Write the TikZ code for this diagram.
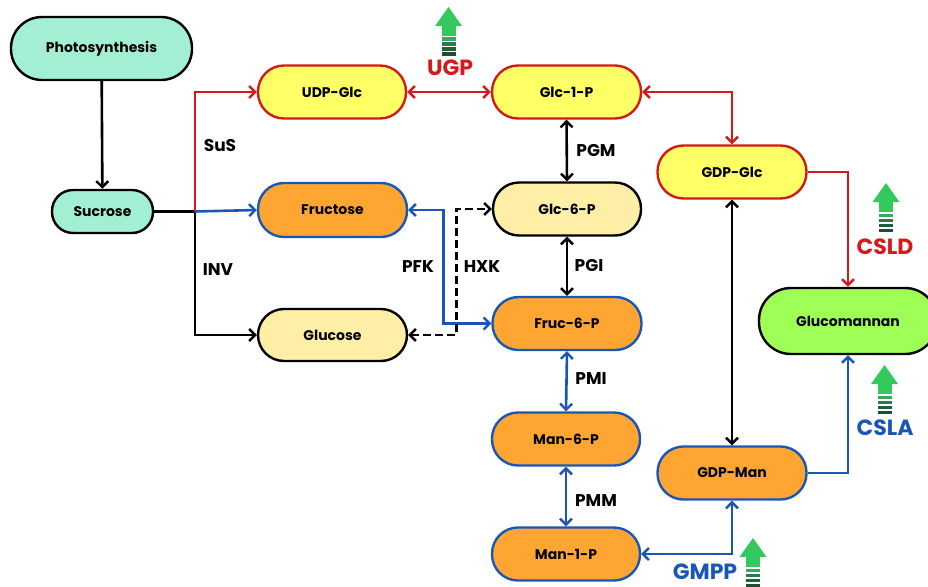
\documentclass[tikz,border=0pt]{standalone}
\usepackage{fontspec}
\setmainfont{Poppins}
\usetikzlibrary{arrows.meta}
\definecolor{mint}{HTML}{A2EFD3}
\definecolor{yel}{HTML}{FFFF66}
\definecolor{lyel}{HTML}{FFEFA6}
\definecolor{orng}{HTML}{FFA632}
\definecolor{lime}{HTML}{9EFF57}
\definecolor{rd}{HTML}{D41A1A}
\definecolor{bl}{HTML}{1A56B8}
\definecolor{gA}{HTML}{34C95F}
\definecolor{gB}{HTML}{3FA566}
\definecolor{gC}{HTML}{2B7A4A}
\definecolor{gD}{HTML}{215F3A}
\definecolor{gE}{HTML}{1B4F30}
\tikzset{
  >={Straight Barb[length=6pt,width=12pt,line width=2.4pt]},
  stadium/.style={rectangle, rounded corners=26pt, draw, line width=2.4pt, inner sep=0pt,
    font=\fontsize{14}{16}\selectfont\bfseries, text=black},
  conn/.style={line width=2.6pt},
  lab/.style={font=\fontsize{17}{20}\selectfont\bfseries, inner sep=0pt},
  enz/.style={font=\fontsize{22}{26}\selectfont\bfseries, inner sep=0pt},
  upg/.pic={
    \fill[gA] (-13.5,19) -- (0,0) -- (13.5,19) -- cycle;
    \fill[gA] (-7,18.5) rectangle (7,29);
    \fill[gB] (-7,30.5) rectangle (7,34);
    \fill[gC] (-7,35.5) rectangle (7,39);
    \fill[gD] (-7,40.5) rectangle (7,44);
    \fill[gE] (-7,45.5) rectangle (7,49);
  }
}
\begin{document}
\begin{tikzpicture}[x=1pt,y=-1pt]
\useasboundingbox (0,0) rectangle (928,586);
\begin{scope}
\clip (0,0) rectangle (928,586);
% nodes
\node[stadium, rounded corners=31pt, fill=mint, minimum width=181pt, minimum height=63pt] (photo) at (101.5,48.5) {Photosynthesis};
\node[stadium, rounded corners=21pt, fill=mint, minimum width=101pt, minimum height=43pt] (suc) at (102.5,211.5) {Sucrose};
\node[stadium, fill=yel, draw=rd, minimum width=148pt, minimum height=53pt] (udp) at (332,92) {UDP-Glc};
\node[stadium, fill=orng, draw=bl, minimum width=149pt, minimum height=54pt] (fru) at (332.5,210) {Fructose};
\node[stadium, fill=lyel, minimum width=149pt, minimum height=52pt] (glu) at (332.5,335) {Glucose};
\node[stadium, fill=yel, draw=rd, minimum width=149pt, minimum height=53pt] (g1p) at (566.5,92) {Glc-1-P};
\node[stadium, fill=lyel, minimum width=148pt, minimum height=53pt] (g6p) at (567,209) {Glc-6-P};
\node[stadium, fill=orng, draw=bl, minimum width=149pt, minimum height=53pt] (f6p) at (567,323.5) {Fruc-6-P};
\node[stadium, fill=orng, draw=bl, minimum width=148pt, minimum height=53pt] (m6p) at (566,439) {Man-6-P};
\node[stadium, fill=orng, draw=bl, minimum width=148pt, minimum height=53pt] (m1p) at (566,554) {Man-1-P};
\node[stadium, fill=yel, draw=rd, minimum width=149pt, minimum height=53pt] (gdpglc) at (732,172) {GDP-Glc};
\node[stadium, fill=orng, draw=bl, minimum width=149pt, minimum height=53pt] (gdpman) at (732,473) {GDP-Man};
\node[stadium, rounded corners=32pt, fill=lime, minimum width=178pt, minimum height=66pt] (gm) at (848,321) {Glucomannan};
% connectors
\coordinate (J) at (195,211.5);
\draw[conn,->] (photo) -- (suc);
\draw[conn] (suc.east) -- (J);
\draw[conn,->] (J) |- (glu.west);
\draw[conn,bl,->] (J) -- (fru.west);
\draw[conn,rd,->] (J) |- (udp.west);
\draw[conn,rd,<->] (udp.east) -- (g1p.west);
\draw[conn,rd,<->] (g1p.east) -| (gdpglc.north);
\draw[conn,<->] (g1p.south) -- (g6p.north);
\draw[conn,<->] (g6p.south) -- (f6p.north);
\draw[conn,bl,<->] (f6p.south) -- (m6p.north);
\draw[conn,bl,<->] (m6p.south) -- (m1p.north);
\draw[conn,bl,<->] (fru.east) -- ++(35,0) |- (f6p.west);
\draw[conn,dash pattern=on 8pt off 4pt,<->] (glu.east) -- ++(48,0) |- (g6p.west);
\draw[conn,<->] (gdpglc.south) -- (gdpman.north);
\draw[conn,bl,<->] (gdpman.south) |- (m1p.east);
\draw[conn,rd,->] (gdpglc.east) -| (gm.north);
\draw[conn,bl,->] (gdpman.east) -| (gm.south);
% labels
\node[lab] (sus) at (220,146) {SuS};
\node[lab] (inv) at (218,270) {INV};
\node[lab] (pfk) at (418,267) {PFK};
\node[lab] (hxk) at (482,267) {HXK};
\node[lab] (pgm) at (596,151) {PGM};
\node[lab] (pgi) at (589,266) {PGI};
\node[lab] (pmi) at (591,379) {PMI};
\node[lab] (pmm) at (596,501) {PMM};
\node[enz, text=rd] (ugp) at (450,68) {UGP};
\node[enz, text=rd] (csld) at (885,247) {CSLD};
\node[enz, text=bl] (csla) at (885,428) {CSLA};
\node[enz, text=bl] (gmpp) at (705,572) {GMPP};
\pic at (448.5,7) {upg};
\pic at (886,183) {upg};
\pic at (884.5,365) {upg};
\pic at (753,538) {upg};
\end{scope}
\end{tikzpicture}
\end{document}
